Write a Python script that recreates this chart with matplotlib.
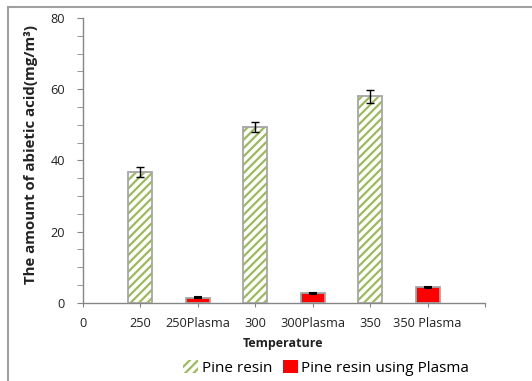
import matplotlib
matplotlib.use("Agg")
import matplotlib.pyplot as plt
from matplotlib.patches import Patch
from matplotlib.lines import Line2D
import numpy as np

categories = ["0", "250", "250Plasma", "300", "300Plasma", "350", "350 Plasma", ""]
pine_pos = [1, 3, 5]
pine_vals = [36.7, 49.4, 58.0]
pine_err = [1.3, 1.3, 1.9]
plasma_pos = [2, 4, 6]
plasma_vals = [1.4, 2.7, 4.3]
plasma_err = [0.15, 0.15, 0.2]

plt.rcParams['font.family'] = ['Open Sans', 'DejaVu Sans']
plt.rcParams['hatch.linewidth'] = 1.6

W, H = 532, 381
fig = plt.figure(figsize=(W / 100, H / 100), dpi=100)
ax = fig.add_axes([83 / W, 1 - 302.7 / H, (485 - 83) / W, (302.7 - 18) / H])

green = '#9BBB59'
gray_edge = '#A6A6A6'
bw = 0.42

ax.bar(pine_pos, pine_vals, width=bw, color='white', edgecolor=green, hatch='////', linewidth=0, zorder=2)
ax.bar(pine_pos, pine_vals, width=bw, fill=False, edgecolor=gray_edge, linewidth=1.3, zorder=3)
ax.errorbar(pine_pos, pine_vals, yerr=pine_err, fmt='none', ecolor='black', elinewidth=1, capsize=2.8, capthick=1, zorder=4)

ax.bar(plasma_pos, plasma_vals, width=bw, color='#FF0000', edgecolor=gray_edge, linewidth=1.3, zorder=3)
ax.errorbar(plasma_pos, plasma_vals, yerr=plasma_err, fmt='none', ecolor='black', elinewidth=1, capsize=2.8, capthick=1.5, zorder=4)

ax.set_xlim(0, 7)
ax.set_ylim(0, 80)
ax.set_xticks(range(len(categories)))
ax.set_xticklabels(categories, fontsize=9.2, color='#222222')
ax.set_yticks([0, 20, 40, 60, 80])
ax.set_yticks(np.arange(0, 81, 5), minor=True)
ax.tick_params(axis='y', which='both', direction='out', length=4, color='#868686', labelsize=9.2, pad=9, labelcolor='#222222')
ax.tick_params(axis='x', which='both', direction='out', length=3, color='#868686', pad=7)

for s in ['top', 'right']:
    ax.spines[s].set_visible(False)
for s in ['left', 'bottom']:
    ax.spines[s].set_color('#868686')
    ax.spines[s].set_linewidth(1)

fig.text(283 / W, 1 - 343 / H, 'Temperature', ha='center', va='center', fontsize=9, fontweight='bold', color='#222222')
fig.text(31 / W, 1 - 155 / H, 'The amount of abietic acid(mg/m³)', ha='center', va='center', rotation=90,
         fontsize=10.8, fontweight='bold', color='#222222')

handles = [Patch(facecolor='white', edgecolor=green, hatch='////', linewidth=0),
           Patch(facecolor='#FF0000', edgecolor='#FF0000', linewidth=0)]
fig.legend(handles, ['Pine resin', 'Pine resin using Plasma'], loc='center', bbox_to_anchor=(326 / W, 1 - 368 / H),
           ncol=2, frameon=False, fontsize=11, handlelength=1.0, handleheight=0.9, handletextpad=0.2, columnspacing=0.7)

fig.add_artist(Line2D([8 / W, 8 / W], [0, 1 - 7 / H], transform=fig.transFigure, color='#A0A0A0', linewidth=1.5))
fig.add_artist(Line2D([8 / W, 1], [1 - 7 / H, 1 - 7 / H], transform=fig.transFigure, color='#A0A0A0', linewidth=1.5))

fig.savefig('out.png', dpi=100)
